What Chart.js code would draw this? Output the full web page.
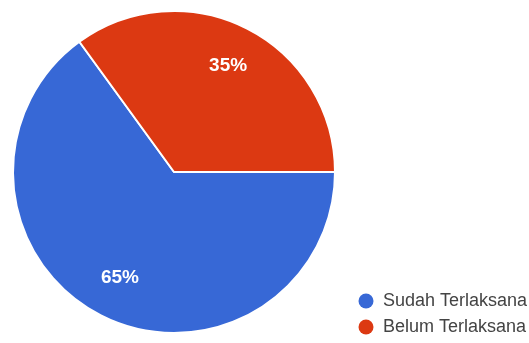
<!DOCTYPE html>
<html>
<head>
<meta charset="utf-8">
<script src="https://cdn.jsdelivr.net/npm/chart.js@4"></script>
<style>
html,body{margin:0;padding:0;background:#fff;}
#wrap{width:529px;height:343px;position:relative;}
</style>
</head>
<body>
<div id="wrap"><canvas id="pieChart"></canvas></div>
<script>

// data
const labels = ["Sudah Terlaksana", "Belum Terlaksana"];
const values = [65, 35];
const colors = ["#3768d6", "#dc3912"];


// ============ percent labels inside slices ============
const sliceLabels = {
id:"sliceLabels",
afterDatasetsDraw(chart){
const ctx = chart.ctx;
const meta = chart.getDatasetMeta(0);
const total = values.reduce((a,b)=>a+b,0);
ctx.save();
ctx.fillStyle="#ffffff";
ctx.font="bold 19px 'Liberation Sans', Arial, sans-serif";
ctx.textAlign="center";
ctx.textBaseline="middle";
meta.data.forEach((arc,i)=>{
const p = arc.getProps(["x","y","startAngle","endAngle","outerRadius"],true);
const mid = (p.startAngle+p.endAngle)/2;
const d = p.outerRadius*0.74;
ctx.fillText(Math.round(values[i]/total*100)+"%", p.x+Math.cos(mid)*d, p.y+Math.sin(mid)*d);
});
ctx.restore();
}
};


// ============ legend bottom right ============
const cornerLegend = {
id:"cornerLegend",
afterDraw(chart){
const ctx = chart.ctx;
ctx.save();
ctx.font="18px 'Liberation Sans', Arial, sans-serif";
ctx.textBaseline="middle";
labels.forEach((lab,i)=>{
const y = 301 + i*26;
ctx.fillStyle=colors[i];
ctx.beginPath();
ctx.arc(366,y,7.5,0,Math.PI*2);
ctx.fill();
ctx.fillStyle="#444444";
ctx.fillText(lab,383,y);
});
ctx.restore();
}
};


const pieCtx = document.getElementById("pieChart");

new Chart(pieCtx,{

type:"pie",

data:{
labels:labels,
datasets:[{
data:values,
backgroundColor:colors,
borderColor:"#ffffff",
borderWidth:2
}]
},

options:{
responsive:true,
maintainAspectRatio:false,
animation:false,
rotation:90,
layout:{padding:{left:12,right:193,top:10,bottom:9}},
plugins:{
legend:{display:false},
tooltip:{enabled:false}
}
},

plugins:[sliceLabels,cornerLegend]

});

</script>
</body>
</html>
